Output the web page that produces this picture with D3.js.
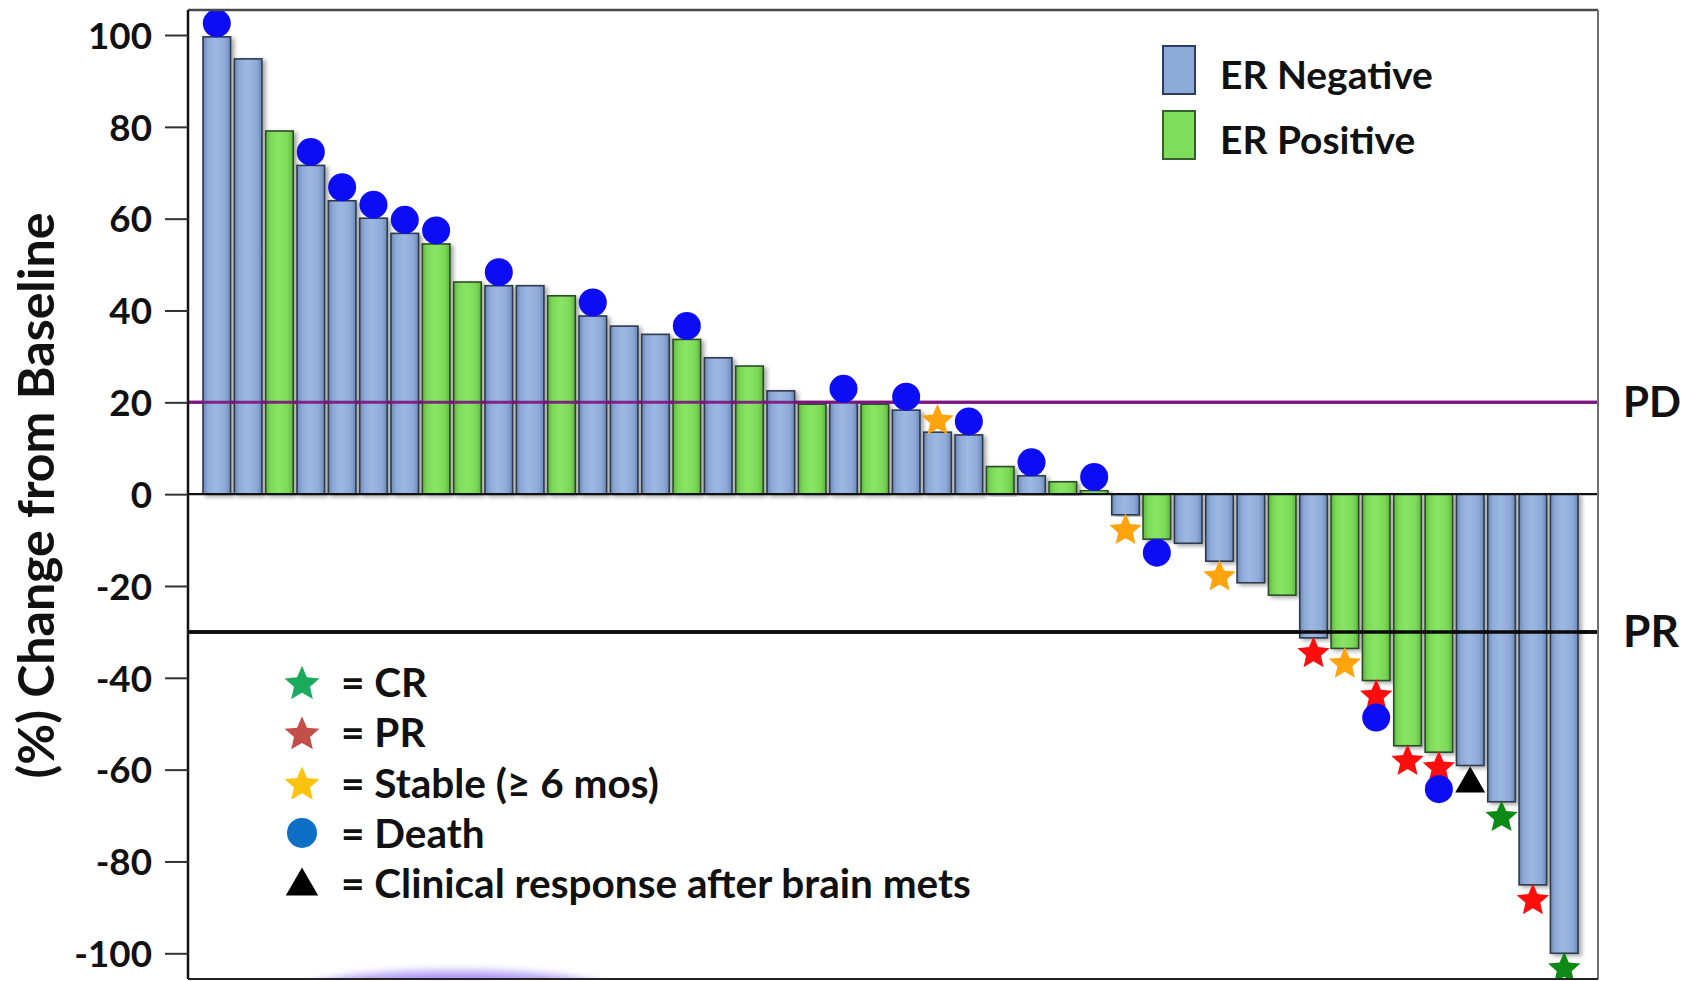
<!DOCTYPE html>
<html>
<head>
<meta charset="utf-8">
<script src="https://cdn.jsdelivr.net/npm/d3@7"></script>
<style>
  html, body { margin: 0; padding: 0; background: #fff; }
  svg { display: block; font-family: Lato, "Open Sans", sans-serif; font-weight: 700; }
</style>
</head>
<body>
<svg id="chart" width="1691" height="981"></svg>
<script>
// Percent change from baseline for each patient, sorted high to low
const values = [99.6, 94.8, 79.1, 71.6, 63.9, 60.1, 56.8, 54.5, 46.2, 45.4, 45.4, 43.2,
  38.8, 36.6, 34.8, 33.7, 29.7, 27.9, 22.5, 19.6, 20.0, 19.6, 18.3, 13.5, 12.9, 6.0,
  4.0, 2.7, 0.8, -4.5, -9.8, -10.7, -14.6, -19.3, -22.0, -31.3, -33.6, -40.6, -54.8,
  -56.2, -59.1, -67.0, -85.1, -100.0];

// Estrogen receptor status per patient (N = negative, P = positive)
const erStatus = ["N","N","P","N","N","N","N","P","P","N","N","P","N","N","N","P","N","P",
  "N","P","N","P","N","N","N","P","N","P","P","N","P","N","N","N","P","N","P","P","P",
  "P","N","N","N","N"];

// Outcome markers per patient, stacked outward from the bar end
const outcomes = [["Death"],[],[],["Death"],["Death"],["Death"],["Death"],["Death"],[],
  ["Death"],[],[],["Death"],[],[],["Death"],[],[],[],[],["Death"],[],["Death"],["Stable"],
  ["Death"],[],["Death"],[],["Death"],["Stable"],["Death"],[],["Stable"],[],[],["PR"],
  ["Stable"],["PR","Death"],["PR"],["PR","Death"],["Brain"],["CR"],["PR"],["CR"]];

const yTicks = [100, 80, 60, 40, 20, 0, -20, -40, -60, -80, -100];
const thresholds = [{ label: "PD", value: 20 }, { label: "PR", value: -30 }];

const erLegend = [{ key: "N", label: "ER Negative" }, { key: "P", label: "ER Positive" }];
const outcomeLegend = [
  { key: "CR", label: "= CR" },
  { key: "PR", label: "= PR" },
  { key: "Stable", label: "= Stable (\u2265 6 mos)" },
  { key: "Death", label: "= Death" },
  { key: "Brain", label: "= Clinical response after brain mets" }
];

const svg = d3.select("#chart");
const frame = { left: 188, right: 1598, top: 10, bottom: 979 };

const y = d3.scaleLinear().domain([-105.6, 105.45]).range([frame.bottom, frame.top]);
const x = d3.scaleBand().domain(d3.range(values.length))
  .range([203, 1578]).paddingInner(0.12).paddingOuter(0);

const defs = svg.append("defs");
defs.append("clipPath").attr("id", "plotClip").append("rect")
  .attr("x", frame.left).attr("y", frame.top)
  .attr("width", frame.right - frame.left).attr("height", frame.bottom - frame.top);

const shadow = defs.append("filter").attr("id", "barShadow")
  .attr("x", "-30%").attr("y", "-10%").attr("width", "180%").attr("height", "120%");
shadow.append("feDropShadow").attr("dx", 3).attr("dy", 2).attr("stdDeviation", 2)
  .attr("flood-color", "#000").attr("flood-opacity", 0.35);

defs.append("filter").attr("id", "haze").attr("x", "-20%").attr("y", "-200%")
  .attr("width", "140%").attr("height", "500%")
  .append("feGaussianBlur").attr("stdDeviation", 4);

defs.append("filter").attr("id", "soft")
  .append("feGaussianBlur").attr("stdDeviation", 0.6);

function barGradient(id, edge, mid, light) {
  const g = defs.append("linearGradient").attr("id", id)
    .attr("x1", "0%").attr("x2", "100%").attr("y1", "0%").attr("y2", "0%");
  [[0, edge], [0.18, mid], [0.45, light], [0.8, mid], [1, edge]].forEach(([o, c]) =>
    g.append("stop").attr("offset", o).attr("stop-color", c));
}
barGradient("gradN", "#6b88b8", "#8eaad8", "#9db8e2");
barGradient("gradP", "#5cb842", "#7cd957", "#8ae566");

const barFill = { N: "url(#gradN)", P: "url(#gradP)" };
const barStroke = { N: "#2e3a4c", P: "#2f4a2a" };

const plot = svg.append("g").attr("clip-path", "url(#plotClip)");

// Faint lavender haze along the bottom edge
plot.append("ellipse").attr("cx", 456).attr("cy", 990).attr("rx", 150).attr("ry", 19)
  .attr("fill", "#9c84f2").attr("opacity", 0.85).attr("filter", "url(#haze)");

// Threshold lines (drawn beneath the bars)
plot.append("line").attr("x1", frame.left).attr("x2", frame.right)
  .attr("y1", y(20)).attr("y2", y(20)).attr("stroke", "#7e1580").attr("stroke-width", 3);
plot.append("line").attr("x1", frame.left).attr("x2", frame.right)
  .attr("y1", y(-30)).attr("y2", y(-30)).attr("stroke", "#0a0a0a").attr("stroke-width", 3.5);

// Bars
plot.append("g").selectAll("rect").data(values).join("rect")
  .attr("x", (d, i) => x(i))
  .attr("y", d => Math.min(y(d), y(0)))
  .attr("width", x.bandwidth())
  .attr("height", d => Math.abs(y(d) - y(0)))
  .attr("fill", (d, i) => barFill[erStatus[i]])
  .attr("stroke", (d, i) => barStroke[erStatus[i]])
  .attr("stroke-width", 1.6)
  .attr("filter", "url(#barShadow)");

// Lines redrawn over the bars where they cross
plot.append("line").attr("x1", frame.left).attr("x2", frame.right)
  .attr("y1", y(20)).attr("y2", y(20)).attr("stroke", "#7e1580").attr("stroke-width", 3)
  .attr("opacity", 0.9);
plot.append("line").attr("x1", frame.left).attr("x2", frame.right)
  .attr("y1", y(-30)).attr("y2", y(-30)).attr("stroke", "#0a0a0a").attr("stroke-width", 3.5);
plot.append("line").attr("x1", frame.left).attr("x2", frame.right)
  .attr("y1", y(0)).attr("y2", y(0)).attr("stroke", "#111").attr("stroke-width", 2.2);

// Marker shapes
const chartColor = { CR: "#0a8a12", PR: "#ff0c0c", Stable: "#ffa40c", Death: "#0a0af5", Brain: "#000" };
const legendColor = { CR: "#1eab5c", PR: "#c4504a", Stable: "#fcc20e", Death: "#0b6fc6", Brain: "#000" };
const starR = 17, dotR = 14, triH = 26;
const triSize = Math.pow(triH / 3, 2) * 3 * Math.sqrt(3);

// Five-pointed star with a fairly broad body
function starPath(R) {
  const pts = d3.range(10).map(k => {
    const a = -Math.PI / 2 + k * Math.PI / 5;
    const r = k % 2 === 0 ? R : R * 0.46;
    return [r * Math.cos(a), r * Math.sin(a)];
  });
  return d3.line()(pts) + "Z";
}

function drawMarker(g, key, cx, cy, color, scale) {
  const s = scale || 1;
  if (key === "Death") {
    g.append("circle").attr("cx", cx).attr("cy", cy).attr("r", dotR * s).attr("fill", color)
      .attr("filter", "url(#soft)");
  } else if (key === "Brain") {
    g.append("path").attr("d", d3.symbol(d3.symbolTriangle, triSize * s * s)())
      .attr("transform", `translate(${cx},${cy})`).attr("fill", color);
  } else {
    const r = starR * s;
    g.append("path").attr("d", starPath(r))
      .attr("transform", `translate(${cx},${cy + r * 0.12})`).attr("fill", color)
      .attr("filter", "url(#soft)");
  }
}

const markers = plot.append("g");
const offsets = [13.5, 37];
values.forEach((v, i) => {
  const dir = v >= 0 ? -1 : 1;
  const cx = x(i) + x.bandwidth() / 2;
  outcomes[i].forEach((key, k) => {
    let off = offsets[k];
    if (key === "Brain") off = 2 * triH / 3 + 1;
    drawMarker(markers, key, cx, y(v) + dir * off, chartColor[key]);
  });
});

// Frame
svg.append("line").attr("x1", frame.left).attr("x2", frame.right)
  .attr("y1", frame.top).attr("y2", frame.top).attr("stroke", "#4a4a4a").attr("stroke-width", 2.5);
svg.append("line").attr("x1", frame.right).attr("x2", frame.right)
  .attr("y1", frame.top).attr("y2", frame.bottom).attr("stroke", "#6f6f6f").attr("stroke-width", 2);
svg.append("line").attr("x1", frame.left).attr("x2", frame.right)
  .attr("y1", frame.bottom).attr("y2", frame.bottom).attr("stroke", "#222").attr("stroke-width", 2);

// Y axis
const yAxis = svg.append("g").attr("transform", `translate(${frame.left},0)`)
  .call(d3.axisLeft(y).tickValues(yTicks).tickFormat(d => String(d))
    .tickSize(23).tickPadding(13).tickSizeOuter(0));
yAxis.select(".domain").attr("stroke", "#111").attr("stroke-width", 2.5)
  .attr("d", `M0,${frame.top}V${frame.bottom}`);
yAxis.selectAll(".tick line").attr("stroke", "#333").attr("stroke-width", 2);
yAxis.selectAll(".tick text").attr("fill", "#111").attr("font-family", "Lato, sans-serif")
  .attr("font-weight", 700).attr("font-size", 32).attr("dy", "0.36em");

function fitWidth(sel, target) {
  const w = sel.node().getComputedTextLength();
  const fs = parseFloat(sel.attr("font-size"));
  return fs * target / w;
}
const hundred = yAxis.selectAll(".tick text").filter(d => d === 100);
const tickFs = fitWidth(hundred, 64);
yAxis.selectAll(".tick text").attr("font-size", tickFs);

// Y axis title
const yTitle = svg.append("text")
  .attr("transform", `translate(54,${(212 + 779) / 2}) rotate(-90)`)
  .attr("text-anchor", "middle").attr("font-size", 44).attr("fill", "#111")
  .text("(%) Change from Baseline");
yTitle.attr("font-size", fitWidth(yTitle, 566));

// Threshold labels
thresholds.forEach(t => {
  const lbl = svg.append("text").attr("x", 1623).attr("y", y(t.value) + 15)
    .attr("font-size", 36).attr("fill", "#111").text(t.label);
  lbl.attr("font-size", fitWidth(lbl, t.label === "PD" ? 58 : 56));
});

// ER legend
const erLeg = svg.append("g");
erLegend.forEach((d, i) => {
  const top = 46 + i * 65;
  erLeg.append("rect").attr("x", 1163).attr("y", top).attr("width", 32).attr("height", 48)
    .attr("fill", d.key === "N" ? "#8eaad9" : "#7fdd5c")
    .attr("stroke", d.key === "N" ? "#2d3b66" : "#35612c").attr("stroke-width", 2);
  const t = erLeg.append("text").attr("x", 1220).attr("y", top + 43)
    .attr("font-size", 36).attr("fill", "#111").text(d.label);
  if (i === 0) erLeg.attr("data-fs", fitWidth(t, 213));
});
erLeg.selectAll("text").attr("font-size", +erLeg.attr("data-fs"));

// Outcome legend
const outLeg = svg.append("g");
outcomeLegend.forEach((d, i) => {
  const base = 697 + i * 50.3;
  const cy = base - 15;
  drawMarker(outLeg, d.key, 302, d.key === "Brain" ? cy + 3 : cy, legendColor[d.key],
    d.key === "Death" ? 1.07 : 1.08);
  outLeg.append("text").attr("x", 341).attr("y", base)
    .attr("font-size", 34).attr("fill", "#111").text(d.label);
});
const longest = outLeg.selectAll("text").filter((d, i) => i === outcomeLegend.length - 1);
const legFs = fitWidth(longest, 630);
outLeg.selectAll("text").attr("font-size", legFs);
</script>
</body>
</html>
